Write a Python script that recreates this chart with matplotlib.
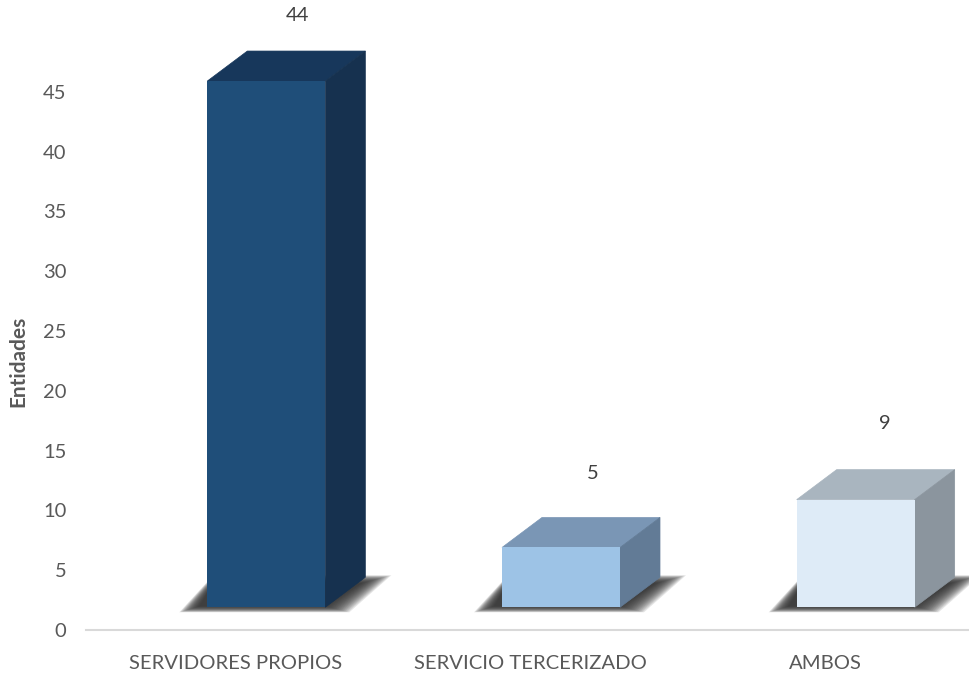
import matplotlib

matplotlib.use("Agg")
import matplotlib.pyplot as plt
from matplotlib.patches import Polygon

categories = ["SERVIDORES PROPIOS", "SERVICIO TERCERIZADO", "AMBOS"]
values = [44, 5, 9]
y_ticks = [0, 5, 10, 15, 20, 25, 30, 35, 40, 45]

front_colors = ["#1f4e79", "#9dc3e6", "#deebf7"]
top_colors = ["#17375b", "#7a96b5", "#a9b5bf"]
side_colors = ["#16314f", "#627b96", "#8b959e"]

# px per data unit
Y_SCALE = 11.96
X_SCALE = 294.67
FLOOR = 1.9
BAR_W = 118 / X_SCALE
BAR_SHIFT = 33 / X_SCALE
DEPTH_X = 40 / X_SCALE
DEPTH_Y = 30 / Y_SCALE
LABEL_DX = [0.107, 0.107, 0.098]
LABEL_DY = [7.4, 8.1, 8.3]
TICK_SHIFT = 2.5 / X_SCALE
TEXT = "#595959"

plt.rcParams["font.family"] = ["Lato", "DejaVu Sans"]

fig = plt.figure(figsize=(9.7, 6.74), dpi=100)
ax = fig.add_axes([86 / 970, 44 / 674, 884 / 970, 630 / 674])
ax.set_xlim(-0.5, 2.5)
ax.set_ylim(0, 630 / Y_SCALE)


def draw_shadow(x0, x1):
    # soft floor shadow, stacked translucent layers shrinking inwards
    steps = 18
    for i in range(steps):
        t = i / (steps - 1)
        ybot = FLOOR + (-5 + 6 * t) / Y_SCALE
        ytop = FLOOR + DEPTH_Y + (2 - 8 * t) / Y_SCALE
        pts = [
            (x0 - (28 - 20 * t) / X_SCALE, ybot),
            (x0 + 6 / X_SCALE, ytop),
            (x1 + DEPTH_X + (26 - 30 * t) / X_SCALE, ytop),
            (x1 + (24 - 24 * t) / X_SCALE, ybot),
        ]
        ax.add_patch(Polygon(pts, closed=True, fc="#2e2e2e", ec="none", alpha=0.12, zorder=2))


for i, value in enumerate(values):
    x0 = i + BAR_SHIFT - BAR_W / 2
    x1 = x0 + BAR_W
    top = value + FLOOR
    draw_shadow(x0, x1)
    ax.bar(i + BAR_SHIFT, value, BAR_W, bottom=FLOOR, color=front_colors[i], zorder=4)
    ax.add_patch(Polygon(
        [(x0, top), (x1, top), (x1 + DEPTH_X, top + DEPTH_Y), (x0 + DEPTH_X, top + DEPTH_Y)],
        closed=True, fc=top_colors[i], ec=top_colors[i], lw=0.5, zorder=3,
    ))
    ax.add_patch(Polygon(
        [(x1, FLOOR), (x1 + DEPTH_X, FLOOR + DEPTH_Y), (x1 + DEPTH_X, top + DEPTH_Y), (x1, top)],
        closed=True, fc=side_colors[i], ec=side_colors[i], lw=0.5, zorder=3,
    ))
    ax.text(
        i + BAR_SHIFT + LABEL_DX[i], value + LABEL_DY[i], str(value),
        ha="center", va="center", fontsize=14.5, color="#404040",
    )

ax.set_xticks([i + TICK_SHIFT for i in range(len(categories))])
ax.set_xticklabels(categories, fontsize=14.6, color=TEXT)
ax.set_yticks(y_ticks)
ax.set_yticklabels([str(t) for t in y_ticks], fontsize=14.5, color=TEXT)
ax.tick_params(axis="both", length=0)
ax.tick_params(axis="x", pad=18)
ax.tick_params(axis="y", pad=14)
ax.set_ylabel("Entidades", fontsize=15, color=TEXT, fontweight="bold")
ax.yaxis.set_label_coords(-58 / 884, (630 - 361) / 630)

for side in ["top", "right", "left"]:
    ax.spines[side].set_visible(False)
ax.spines["bottom"].set_color("#d9d9d9")
ax.spines["bottom"].set_linewidth(1.5)
ax.patch.set_alpha(0)

fig.savefig("out.png", dpi=100)
plt.close(fig)
